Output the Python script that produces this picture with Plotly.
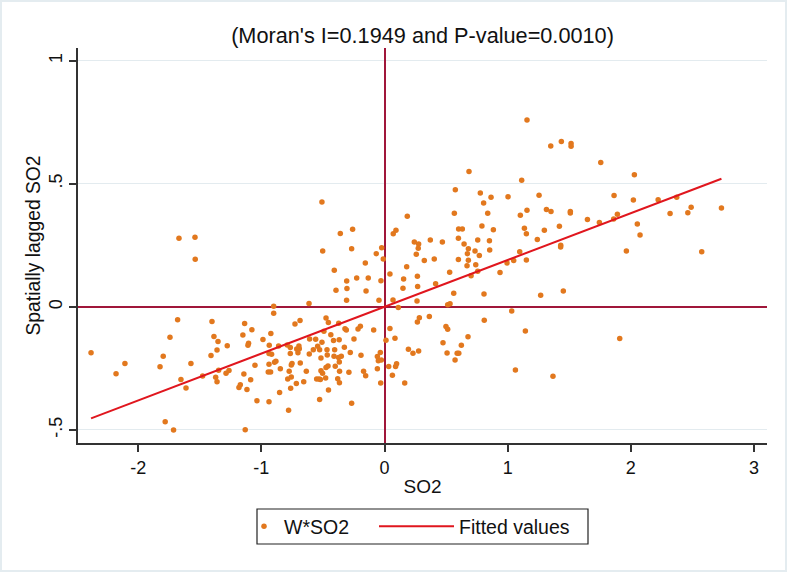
import plotly.graph_objects as go

# ---------------- data ----------------
# far-left points (SO2 < -1.25)
so2_far_left = [-2.383, -2.18, -2.108, -1.669, -1.539, -1.537, -1.68, -1.742, -1.797,
                -1.823, -1.653, -1.612, -1.572, -1.477, -1.781, -1.713, -1.401, -1.385,
                -1.352, -1.277, -1.36, -1.409, -1.347, -1.371, -1.36, -1.287, -1.263]
wso2_far_left = [-0.187, -0.272, -0.23, 0.278, 0.282, 0.193, -0.053, -0.124, -0.201,
                 -0.243, -0.295, -0.33, -0.23, -0.281, -0.467, -0.5, -0.06, -0.121,
                 -0.141, -0.158, -0.175, -0.198, -0.258, -0.286, -0.304, -0.27, -0.259]

# lower-left quadrant (dense cluster)
so2_low_left = [-0.9, -0.613, -0.308, -0.9, -0.045, -1.136, -0.727, -0.686, -0.475, -0.456,
                -0.372, -1.15, -1.077, -0.923, -0.987, -1.104, -1.109, -0.936, -0.86, -0.79,
                -0.695, -0.713, -0.765, -0.938, -0.917, -0.765, -0.703, -0.692, -0.608, -0.559,
                -0.508, -0.543, -0.492, -0.436, -0.414, -0.368, -0.321, -0.31, -0.196, -0.215,
                -0.088, -0.248, -0.326, -0.467, -0.405, -0.527, -0.611, -0.578, -0.516, -0.465,
                -0.41, -0.373, -0.351, -0.278, -0.191, -0.367, -0.684, -0.751, -0.757, -0.893,
                -0.882, -0.938, -1.052, -0.846, -0.944, -0.925, -0.774, -0.757, -0.786, -0.635,
                -0.475, -0.459, -0.4, -0.516, -0.503, -0.365, -0.289, -0.17, -0.153, -1.142,
                -1.087, -1.171, -1.182, -1.117, -0.716, -0.656, -0.551, -0.532, -0.521, -0.478,
                -0.38, -0.366, -0.762, -0.455, -0.852, -1.036, -0.938, -0.527, -0.267, -0.779,
                0.012, -0.034, -0.058, -0.05, -0.026, -0.058, -0.031, 0.034, -1.131]
wso2_low_left = [0.002, 0.013, 0.027, -0.026, 0.027, -0.068, -0.07, -0.056, -0.045, -0.064,
                 -0.067, -0.114, -0.093, -0.108, -0.133, -0.148, -0.156, -0.156, -0.159, -0.155,
                 -0.159, -0.171, -0.165, -0.19, -0.193, -0.19, -0.187, -0.17, -0.131, -0.132,
                 -0.144, -0.16, -0.099, -0.113, -0.137, -0.134, -0.089, -0.094, -0.079, -0.09,
                 -0.094, -0.131, -0.164, -0.174, -0.174, -0.174, -0.192, -0.174, -0.208, -0.196,
                 -0.201, -0.206, -0.201, -0.186, -0.197, -0.224, -0.228, -0.23, -0.236, -0.225,
                 -0.221, -0.233, -0.237, -0.251, -0.265, -0.265, -0.262, -0.285, -0.293, -0.262,
                 -0.246, -0.24, -0.241, -0.26, -0.27, -0.262, -0.266, -0.262, -0.28, -0.273,
                 -0.296, -0.316, -0.328, -0.336, -0.311, -0.304, -0.293, -0.293, -0.295, -0.289,
                 -0.292, -0.308, -0.331, -0.338, -0.348, -0.381, -0.386, -0.376, -0.392, -0.42,
                 -0.136, -0.186, -0.202, -0.219, -0.216, -0.251, -0.309, -0.242, -0.499]

# upper-left quadrant
so2_up_left = [-0.508, -0.359, -0.259, -0.502, -0.267, -0.023, -0.067, -0.01, -0.156,
               -0.408, -0.226, -0.132, -0.307, -0.029, -0.394, -0.305, -0.15]
wso2_up_left = [0.426, 0.298, 0.315, 0.227, 0.236, 0.24, 0.216, 0.194, 0.178,
                0.149, 0.117, 0.117, 0.105, 0.106, 0.067, 0.074, 0.064]

# upper-right quadrant
so2_up_right = [0.575, 0.778, 0.865, 0.805, 1.003, 1.114, 0.567, 0.838, 1.103, 1.157,
                0.185, 0.791, 0.602, 0.632, 0.884, 1.136, 1.152, 0.071, 0.093, 0.6,
                0.372, 0.47, 0.646, 0.757, 0.852, 0.242, 0.277, 0.274, 0.258, 0.681,
                0.735, 0.854, 0.77, 0.673, 1.098, 0.323, 0.404, 0.6, 0.681, 0.741,
                0.67, 1.049, 1.152, 0.995, 0.18, 0.757, 0.529, 0.938, 0.703, 0.044,
                0.155, 0.267, 0.415, 0.15, 0.269, 0.562, 0.808, 0.069, 0.264, 0.513,
                0.532, 1.157, 1.35, 1.436, 1.515, 1.515, 0.686, 1.255, 1.315, 1.352,
                1.509, 1.509, 1.42, 1.298, 1.241, 1.431, 1.43, 1.268, 1.452, 1.756,
                2.029, 1.864, 2.021, 2.222, 2.373, 2.736, 2.49, 2.463, 2.319, 1.891,
                1.861, 1.745, 1.648, 2.053, 2.075, 2.576, 1.964]
wso2_up_right = [0.475, 0.462, 0.445, 0.422, 0.447, 0.514, 0.38, 0.38, 0.372, 0.392,
                 0.368, 0.328, 0.316, 0.316, 0.313, 0.319, 0.297, 0.297, 0.311, 0.278,
                 0.271, 0.263, 0.255, 0.271, 0.268, 0.263, 0.255, 0.238, 0.213, 0.236,
                 0.227, 0.231, 0.208, 0.216, 0.224, 0.188, 0.194, 0.192, 0.189, 0.171,
                 0.167, 0.188, 0.19, 0.178, 0.163, 0.144, 0.14, 0.139, 0.126, 0.133,
                 0.113, 0.124, 0.094, 0.075, 0.083, 0.055, 0.052, 0.028, 0.024, 0.008,
                 0.012, 0.759, 0.653, 0.671, 0.663, 0.652, 0.549, 0.453, 0.395, 0.387,
                 0.387, 0.381, 0.327, 0.311, 0.273, 0.25, 0.243, 0.047, 0.064, 0.586,
                 0.536, 0.452, 0.434, 0.435, 0.445, 0.401, 0.404, 0.382, 0.379, 0.376,
                 0.357, 0.342, 0.355, 0.336, 0.292, 0.224, 0.227]

# lower-right quadrant
so2_low_right = [0.112, 0.364, 0.283, 0.267, 0.044, 0.499, 0.513, 0.81, 1.033, 1.144,
                 0.678, 0.085, 0.475, 0.624, 0.194, 0.231, 0.277, 0.508, 0.59, 0.603,
                 0.573, 0.09, 0.098, 0.064, 0.164, 1.063, 1.91, 1.368]
wso2_low_right = [-0.003, -0.039, -0.044, -0.062, -0.088, -0.08, -0.091, -0.055, -0.017, -0.098,
                  -0.122, -0.128, -0.146, -0.156, -0.172, -0.189, -0.179, -0.188, -0.189, -0.189,
                  -0.216, -0.242, -0.231, -0.278, -0.309, -0.257, -0.129, -0.282]

# fitted regression line of W*SO2 on SO2
FIT_SLOPE = 0.19
FIT_INTERCEPT = 0.0

x_ticks = [-2, -1, 0, 1, 2, 3]
x_ticktext = ["-2", "-1", "0", "1", "2", "3"]
y_ticks = [-0.5, 0, 0.5, 1]
y_ticktext = ["-.5", "0", ".5", "1"]

TITLE = "(Moran's I=0.1949 and P-value=0.0010)"
X_TITLE = "SO2"
Y_TITLE = "Spatially lagged SO2"
SCATTER_NAME = "W*SO2"
FIT_NAME = "Fitted values"

# ---------------- build ----------------
so2 = so2_far_left + so2_low_left + so2_up_left + so2_up_right + so2_low_right
w_so2 = wso2_far_left + wso2_low_left + wso2_up_left + wso2_up_right + wso2_low_right
n = min(len(so2), len(w_so2))
so2, w_so2 = so2[:n], w_so2[:n]

x_min, x_max = min(so2), max(so2)
fit_x = [x_min, x_max]
fit_y = [FIT_INTERCEPT + FIT_SLOPE * v for v in fit_x]

FONT = "Liberation Sans, Arial, Helvetica, sans-serif"
MARKER_COLOR = "#E2781E"
FIT_COLOR = "#E0161E"
REF_COLOR = "#A0173A"
AXIS_COLOR = "#333333"
GRID_COLOR = "#E3EBEF"
TEXT_COLOR = "#111111"

W, H = 787, 572
ML, MR, MT, MB = 78, 20, 48, 129
PW, PH = W - ML - MR, H - MT - MB


def px_to_paper_x(px):
    return (px - ML) / PW


def px_to_paper_y(py):
    return (H - MB - py) / PH


fig = go.Figure()
fig.add_trace(go.Scatter(
    x=so2, y=w_so2, mode="markers", name=SCATTER_NAME,
    marker=dict(color=MARKER_COLOR, size=5.5, line=dict(width=0)),
    legend="legend", showlegend=True,
))
fig.add_trace(go.Scatter(
    x=fit_x, y=fit_y, mode="lines", name=FIT_NAME,
    line=dict(color=FIT_COLOR, width=2),
    legend="legend2", showlegend=True,
))

legend_common = dict(
    orientation="h", yanchor="middle", y=px_to_paper_y(526.5), xanchor="left",
    font=dict(family=FONT, size=19.5, color=TEXT_COLOR), bgcolor="rgba(0,0,0,0)", borderwidth=0,
)

fig.update_layout(
    width=W, height=H, autosize=False, showlegend=True,
    margin=dict(l=ML, r=MR, t=MT, b=MB, pad=0),
    paper_bgcolor="white", plot_bgcolor="white",
    font=dict(family=FONT, color=TEXT_COLOR),
    title=dict(text=TITLE, x=0.5, xref="paper", xanchor="center",
               y=1 - 35.5 / H, yref="container", yanchor="middle",
               font=dict(family=FONT, size=21.7, color=TEXT_COLOR)),
    xaxis=dict(
        range=[-2.489, 3.106], tickvals=x_ticks, ticktext=x_ticktext, showgrid=False,
        zeroline=True, zerolinecolor=REF_COLOR, zerolinewidth=2,
        showline=True, linecolor=AXIS_COLOR, linewidth=1.5,
        ticks="outside", ticklen=7, tickwidth=1.5, tickcolor=AXIS_COLOR,
        ticklabelstandoff=1,
        tickfont=dict(family=FONT, size=18, color=TEXT_COLOR),
        title=dict(text=X_TITLE, font=dict(family=FONT, size=19, color=TEXT_COLOR), standoff=2),
    ),
    yaxis=dict(
        range=[-0.553, 1.051], tickvals=y_ticks, ticktext=y_ticktext, tickangle=-90,
        showgrid=True, gridcolor=GRID_COLOR, gridwidth=1.2,
        zeroline=True, zerolinecolor=REF_COLOR, zerolinewidth=2,
        showline=True, linecolor=AXIS_COLOR, linewidth=1.5,
        ticks="outside", ticklen=7, tickwidth=1.5, tickcolor=AXIS_COLOR,
        tickfont=dict(family=FONT, size=18, color=TEXT_COLOR),
        title=dict(text=Y_TITLE, font=dict(family=FONT, size=19.3, color=TEXT_COLOR), standoff=0),
    ),
    legend=dict(x=px_to_paper_x(244), itemwidth=30, **legend_common),
    legend2=dict(x=px_to_paper_x(374), itemwidth=75, **legend_common),
    shapes=[
        # legend frame
        dict(type="rect", xref="paper", yref="paper",
             x0=px_to_paper_x(257), x1=px_to_paper_x(588),
             y0=px_to_paper_y(544), y1=px_to_paper_y(509),
             line=dict(color="#222", width=1.2), fillcolor="rgba(0,0,0,0)"),
        # faint outer border of the graph region
        dict(type="rect", xref="paper", yref="paper",
             x0=px_to_paper_x(1), x1=px_to_paper_x(786),
             y0=px_to_paper_y(571), y1=px_to_paper_y(1),
             line=dict(color="#E4ECF0", width=2), fillcolor="rgba(0,0,0,0)", layer="below"),
    ],
)

fig.write_html("out.html", config={"displayModeBar": False},
               post_script="document.body.style.margin='0px';")
